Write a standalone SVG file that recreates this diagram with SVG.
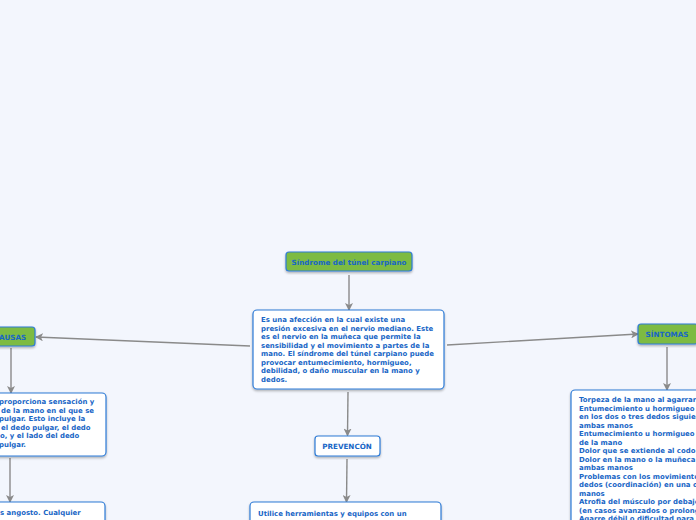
<svg xmlns="http://www.w3.org/2000/svg" width="696" height="520" viewBox="0 0 696 520">
<defs>
<marker id="ah" markerWidth="8" markerHeight="8" refX="7" refY="4" orient="auto" markerUnits="userSpaceOnUse">
<path d="M0,0 L8,4 L0,8 L2,4 Z" fill="#8a8a8a"/>
</marker>
<filter id="sh" x="-10%" y="-10%" width="120%" height="130%">
<feDropShadow dx="0" dy="1.5" stdDeviation="0.8" flood-color="#000" flood-opacity="0.3"/>
</filter>
</defs>
<style>
.bg{fill:#f3f6fd}
.green{fill:#7dbb42;stroke:#2e7bd6;stroke-width:1.2;filter:url(#sh)}
.white{fill:#ffffff;stroke:#2e7bd6;stroke-width:1.2;filter:url(#sh)}
.t{font-family:"DejaVu Sans",Verdana,sans-serif;font-weight:bold;font-size:6.95px;fill:#1866c6}
.tc{font-family:"DejaVu Sans",Verdana,sans-serif;font-weight:bold;font-size:7.2px;fill:#1866c6;text-anchor:middle}
.c{stroke:#8a8a8a;stroke-width:1.4;fill:none;marker-end:url(#ah)}
</style>
<rect class="bg" x="0" y="0" width="696" height="520"/>
<g id="connectors">
<line class="c" x1="349" y1="275" x2="349" y2="310"/>
<line class="c" x1="250" y1="346" x2="36" y2="337"/>
<line class="c" x1="447" y1="345" x2="638" y2="334"/>
<line class="c" x1="348" y1="392" x2="347.5" y2="435.5"/>
<line class="c" x1="11" y1="348" x2="11" y2="393"/>
<line class="c" x1="10" y1="458" x2="10" y2="502"/>
<line class="c" x1="667" y1="347" x2="667" y2="390"/>
<line class="c" x1="347" y1="459" x2="346.5" y2="502"/>
</g>
<g id="title">
<rect class="green" x="286" y="252" width="126" height="19" rx="3"/>
<text class="tc" x="349" y="264.5">Síndrome del túnel carpiano</text>
</g>
<g id="definition">
<rect class="white" x="253" y="310" width="191" height="79" rx="4"/>
<text class="t" x="261" y="322.3">Es una afección en la cual existe una</text>
<text class="t" x="261" y="330.8">presión excesiva en el nervio mediano. Este</text>
<text class="t" x="261" y="339.3">es el nervio en la muñeca que permite la</text>
<text class="t" x="261" y="347.8">sensibilidad y el movimiento a partes de la</text>
<text class="t" x="261" y="356.3">mano. El síndrome del túnel carpiano puede</text>
<text class="t" x="261" y="364.8">provocar entumecimiento, hormigueo,</text>
<text class="t" x="261" y="373.3">debilidad, o daño muscular en la mano y</text>
<text class="t" x="261" y="381.8">dedos.</text>
</g>
<g id="causas">
<rect class="green" x="-16" y="327" width="51" height="19" rx="3"/>
<text class="tc" x="10" y="339.5">CAUSAS</text>
</g>
<g id="causas-1">
<rect class="white" x="-60" y="393" width="166" height="63" rx="4"/>
<text class="t" x="-1" y="404">proporciona sensación y</text>
<text class="t" x="1" y="412.5">de la mano en el que se</text>
<text class="t" x="-1" y="421">pulgar. Esto incluye la</text>
<text class="t" x="1" y="429.5">el dedo pulgar, el dedo</text>
<text class="t" x="0" y="438">o, y el lado del dedo</text>
<text class="t" x="-1" y="446.5">pulgar.</text>
</g>
<g id="causas-2">
<rect class="white" x="-60" y="502" width="165" height="40" rx="4"/>
<text class="t" x="0" y="514.5">s angosto. Cualquier</text>
</g>
<g id="sintomas">
<rect class="green" x="638" y="324" width="60" height="20" rx="3"/>
<text class="tc" x="667" y="336.5">SÍNTOMAS</text>
</g>
<g id="sintomas-1">
<rect class="white" x="571" y="390" width="140" height="150" rx="4"/>
<text class="t" x="579" y="402">Torpeza de la mano al agarrar objetos</text>
<text class="t" x="579" y="410.5">Entumecimiento u hormigueo en el pulgar y</text>
<text class="t" x="579" y="419">en los dos o tres dedos siguientes de una o</text>
<text class="t" x="579" y="427.5">ambas manos</text>
<text class="t" x="579" y="436">Entumecimiento u hormigueo de la palma</text>
<text class="t" x="579" y="444.5">de la mano</text>
<text class="t" x="579" y="453">Dolor que se extiende al codo</text>
<text class="t" x="579" y="461.5">Dolor en la mano o la muñeca en una o</text>
<text class="t" x="579" y="470">ambas manos</text>
<text class="t" x="579" y="478.5">Problemas con los movimientos finos de los</text>
<text class="t" x="579" y="487">dedos (coordinación) en una o ambas</text>
<text class="t" x="579" y="495.5">manos</text>
<text class="t" x="579" y="504">Atrofia del músculo por debajo del pulgar</text>
<text class="t" x="579" y="512.5">(en casos avanzados o prolongados)</text>
<text class="t" x="579" y="521">Agarre débil o dificultad para cargar bolsas</text>
</g>
<g id="prevencion">
<rect class="white" x="315" y="436" width="65" height="20" rx="3"/>
<text class="tc" x="347" y="448.5">PREVENCÓN</text>
</g>
<g id="prevencion-1">
<rect class="white" x="250" y="502" width="191" height="40" rx="4"/>
<text class="t" x="258" y="516">Utilice herramientas y equipos con un</text>
</g>
</svg>
